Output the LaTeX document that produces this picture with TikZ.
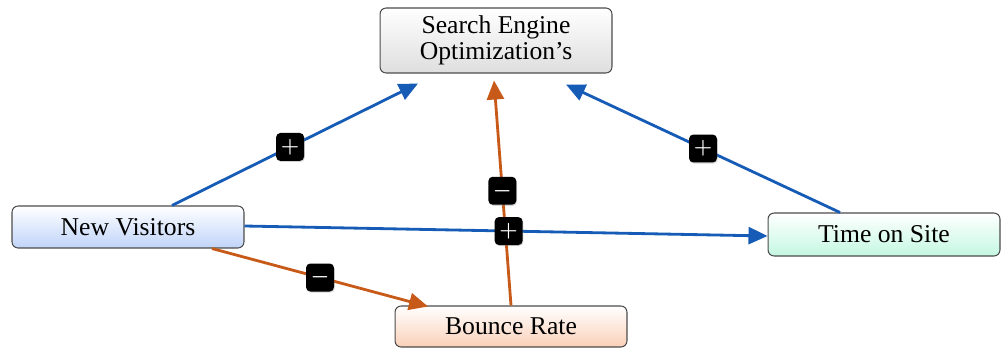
\documentclass[tikz,border=0pt]{standalone}
\usepackage{fontspec}
\setmainfont{Liberation Serif}
\usetikzlibrary{arrows.meta,shadows}

\definecolor{linkblue}{RGB}{22,92,182}
\definecolor{linkorange}{RGB}{200,90,25}
\definecolor{boxgray}{RGB}{222,222,222}
\definecolor{boxblue}{RGB}{192,212,250}
\definecolor{boxgreen}{RGB}{196,248,226}
\definecolor{boxpeach}{RGB}{250,208,184}

\tikzset{
	factor/.style={draw=black!70, line width=0.6pt, rounded corners=3.5pt,
		minimum width=4.64cm, align=center, font=\fontsize{14.6}{14.5}\selectfont,
		top color=white, inner sep=1pt},
	sign/.style={fill=black, rounded corners=2.5pt, minimum size=0.56cm,
		inner sep=0pt, text=white, font=\large\bfseries\boldmath,
		drop shadow={shadow xshift=0.4pt, shadow yshift=-0.6pt, opacity=0.35}},
	pos link/.style={draw=linkblue, line width=1.6pt, -{Triangle[length=3.8mm,width=3.4mm]}},
	neg link/.style={draw=linkorange, line width=1.6pt, -{Triangle[length=3.8mm,width=3.4mm]}}
}

\begin{document}
\begin{tikzpicture}[x=0.02cm,y=-0.02cm]
	\useasboundingbox (0,0) rectangle (1003,348);
	% factors
	\node[factor, minimum height=1.3cm, bottom color=boxgray] (seo) at (496,40.5) {Search Engine\\Optimization's};
	\node[factor, minimum height=0.84cm, bottom color=boxblue] (nv) at (128,227) {New Visitors};
	\node[factor, minimum height=0.86cm, bottom color=boxgreen] (tos) at (884,234.5) {Time on Site};
	\node[factor, minimum height=0.82cm, bottom color=boxpeach] (br) at (511,326.5) {Bounce Rate};
	% links
	\draw[pos link] ([xshift=0.88cm]nv.north) -- ([xshift=-1.56cm,yshift=-0.2cm]seo.south)
		node[sign, pos=0.48] (s1) {$+$};
	\draw[pos link] ([xshift=-0.88cm]tos.north) -- ([xshift=1.4cm,yshift=-0.22cm]seo.south)
		node[sign, pos=0.5] (s2) {$+$};
	\draw[neg link] (br.north) -- ([xshift=-0.04cm,yshift=-0.14cm]seo.south)
		node[sign, pos=0.51] (s4) {$-$};
	\draw[pos link] ([yshift=0.02cm]nv.east) -- ([yshift=-0.03cm]tos.west)
		node[sign, pos=0.505] (s3) {$+$};
	\draw[neg link] ([xshift=1.68cm]nv.south) -- ([xshift=-1.66cm,yshift=-0.02cm]br.north)
		node[sign, pos=0.5] (s5) {$-$};
\end{tikzpicture}
\end{document}
